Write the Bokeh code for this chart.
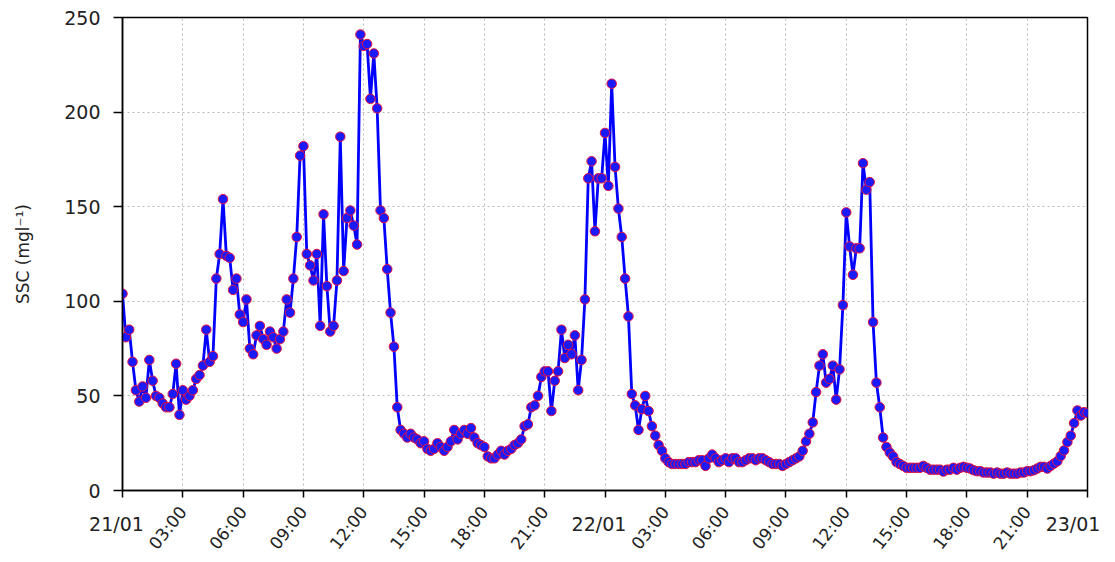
import math
from bokeh.plotting import figure
from bokeh.models import FixedTicker, LinearAxis, Range1d
from bokeh.embed import file_html
from bokeh.resources import INLINE

# SSC (mg/l), one sample every 10 minutes from 21/01 00:00 to 23/01 00:00
ssc = [
    104, 81, 85, 68, 53, 47,
    55, 49, 69, 58, 50, 49,
    46, 44, 44, 51, 67, 40,
    53, 48, 50, 53, 59, 61,
    66, 85, 68, 71, 112, 125,
    154, 124, 123, 106, 112, 93,
    89, 101, 75, 72, 82, 87,
    80, 77, 84, 81, 75, 80,
    84, 101, 94, 112, 134, 177,
    182, 125, 119, 111, 125, 87,
    146, 108, 84, 87, 111, 187,
    116, 144, 148, 140, 130, 241,
    235, 236, 207, 231, 202, 148,
    144, 117, 94, 76, 44, 32,
    30, 28, 30, 28, 27, 25,
    26, 22, 21, 22, 25, 23,
    21, 23, 26, 32, 27, 30,
    32, 30, 33, 28, 25, 24,
    23, 18, 17, 17, 19, 21,
    19, 21, 22, 24, 25, 27,
    34, 35, 44, 45, 50, 60,
    63, 63, 42, 58, 63, 85,
    70, 77, 72, 82, 53, 69,
    101, 165, 174, 137, 165, 165,
    189, 161, 215, 171, 149, 134,
    112, 92, 51, 45, 32, 43,
    50, 42, 34, 29, 24, 21,
    17, 15, 14, 14, 14, 14,
    14, 15, 15, 15, 16, 16,
    13, 17, 19, 17, 15, 16,
    17, 15, 17, 17, 15, 15,
    16, 17, 17, 16, 17, 17,
    16, 15, 14, 14, 14, 13,
    14, 15, 16, 17, 18, 21,
    26, 30, 36, 52, 66, 72,
    57, 59, 66, 48, 64, 98,
    147, 129, 114, 128, 128, 173,
    159, 163, 89, 57, 44, 28,
    23, 20, 18, 15, 14, 13,
    12, 12, 12, 12, 12, 13,
    12, 11, 11, 11, 11, 10,
    11, 11, 12, 11, 12, 12.5,
    12, 11.6, 10.7, 10.2, 10.2, 9.5,
    9.5, 9.5, 8.9, 9.5, 8.9, 8.9,
    9.5, 8.9, 8.9, 8.9, 9.5, 9.5,
    10.2, 10.2, 10.7, 11.6, 12.5, 12.5,
    11.6, 13, 14.2, 15.4, 18.2, 21.2,
    25.6, 29, 35.6, 42.3, 39.6, 41.4,
    41,
]
sample_minutes = 10
hours = [i * sample_minutes / 60 for i in range(len(ssc))]

tick_hours = list(range(0, 49, 3))
tick_labels = ["21/01", "03:00", "06:00", "09:00", "12:00", "15:00", "18:00", "21:00",
               "22/01", "03:00", "06:00", "09:00", "12:00", "15:00", "18:00", "21:00",
               "23/01"]
day_hours = [0, 24, 48]
y_ticks = [0, 50, 100, 150, 200, 250]

FONT = "DejaVu Sans"
TXT = "#222222"
NBSP = "\u00a0"

p = figure(width=1112, height=562, output_backend="svg", toolbar_location=None,
           x_range=Range1d(0, 48), y_range=Range1d(0, 250),
           min_border_left=122, min_border_right=25, min_border_top=17,
           min_border_bottom=61)
p.background_fill_color = "white"
p.border_fill_color = "white"
p.outline_line_color = "black"
p.outline_line_width = 1.5

p.line(hours, ssc, line_color="#0000ff", line_width=2.8)
p.scatter(hours, ssc, size=9.5, fill_color="#1a1aff", line_color="#e8103a", line_width=1)

# x axis nearest the frame: ticks + horizontal day labels
xa = p.xaxis[0]
xa.ticker = FixedTicker(ticks=tick_hours)
xa.major_label_overrides = {h: (lab + NBSP * 2 if h in day_hours else "")
                            for h, lab in zip(tick_hours, tick_labels)}
xa.major_label_orientation = "horizontal"
xa.major_label_standoff = 15
xa.minor_tick_line_color = None
xa.major_tick_in = 0
xa.major_tick_out = 7

# second x axis below it: rotated hour labels only
xb = LinearAxis(ticker=FixedTicker(ticks=tick_hours))
xb.major_label_overrides = {h: ("" if h in day_hours else lab)
                            for h, lab in zip(tick_hours, tick_labels)}
xb.major_label_orientation = math.radians(52)
xb.major_label_standoff = -29
xb.axis_line_color = None
xb.major_tick_line_color = None
xb.minor_tick_line_color = None
xb.major_tick_out = 0
xb.major_tick_in = 0
xb.major_label_text_font = FONT
xb.major_label_text_font_size = "17px"
xb.major_label_text_color = TXT
p.add_layout(xb, "below")

p.yaxis.ticker = FixedTicker(ticks=y_ticks)
p.yaxis.minor_tick_line_color = None
p.yaxis.major_tick_in = 0
p.yaxis.major_tick_out = 9
for ax in (xa, p.yaxis[0]):
    ax.axis_line_color = "black"
    ax.axis_line_width = 1.5
    ax.major_tick_line_color = "black"
    ax.major_tick_line_width = 1.5
    ax.major_label_text_font = FONT
    ax.major_label_text_font_size = "19px"
    ax.major_label_text_color = TXT
p.yaxis.major_label_standoff = 13
p.yaxis.axis_label = "SSC (mgl⁻¹)"
p.yaxis.axis_label_text_font = FONT
p.yaxis.axis_label_text_font_size = "17px"
p.yaxis.axis_label_text_font_style = "normal"
p.yaxis.axis_label_text_color = TXT
p.yaxis.axis_label_standoff = 28

# grid
p.xgrid.ticker = FixedTicker(ticks=tick_hours)
p.ygrid.ticker = FixedTicker(ticks=y_ticks)
for g in (p.xgrid, p.ygrid):
    g.grid_line_color = "#b8b8b8"
    g.grid_line_dash = "2 3"
    g.grid_line_width = 1

open("out.html", "w").write(file_html(p, INLINE))
